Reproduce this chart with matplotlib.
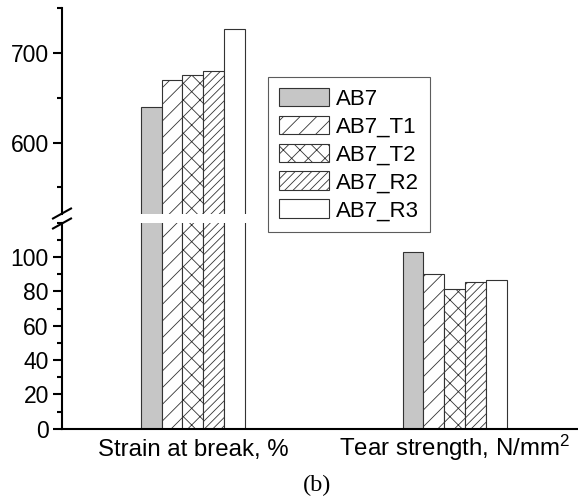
import matplotlib
matplotlib.use("Agg")
import matplotlib.pyplot as plt
import numpy as np
from matplotlib.lines import Line2D
from matplotlib.ticker import MultipleLocator

plt.rcParams['font.family'] = ['Liberation Sans', 'DejaVu Sans']
plt.rcParams['mathtext.fontset'] = 'custom'
plt.rcParams['mathtext.rm'] = 'Liberation Sans'
plt.rcParams['mathtext.it'] = 'Liberation Sans'
plt.rcParams['hatch.linewidth'] = 0.6

categories = ["Strain at break, %", "Tear strength, N/mm$^2$"]
series = ["AB7", "AB7_T1", "AB7_T2", "AB7_R2", "AB7_R3"]
strain_at_break = [640, 670, 675, 680, 727]
tear_strength = [103, 90, 81.5, 85.5, 86.5]
values = np.array([strain_at_break, tear_strength]).T  # rows: series

faces = ['#c6c6c6', 'white', 'white', 'white', 'white']
hatches = [None, '//', 'xx', '////', None]

W, H = 578, 497
fig = plt.figure(figsize=(W / 100, H / 100), dpi=100)

left = 62 / W
width = 1 - left
ax_lo = fig.add_axes([left, (H - 428.7) / H, width, 206 / H])
ax_hi = fig.add_axes([left, (H - 214.3) / H, width, 206 / H])

x = np.arange(1, len(categories) + 1)
bw = 0.08
offsets = (np.arange(len(series)) - (len(series) - 1) / 2) * bw

for ax in (ax_lo, ax_hi):
    for i, name in enumerate(series):
        ax.bar(x + offsets[i], values[i], width=bw, facecolor=faces[i],
               edgecolor='#333333', linewidth=0.8, hatch=hatches[i],
               label=name, zorder=2)
    ax.set_xlim(0.5, 2.47)
    for s in ('top', 'right'):
        ax.spines[s].set_visible(False)
    ax.spines['left'].set_linewidth(1.5)
    ax.spines['bottom'].set_linewidth(1.5)
    ax.tick_params(axis='y', which='major', direction='out', length=6.5,
                   width=1.5, labelsize=16.5, pad=3)
    ax.tick_params(axis='y', which='minor', direction='out', length=3.5,
                   width=1.5)
    ax.patch.set_visible(False)

ax_lo.set_ylim(0, 120)
ax_lo.yaxis.set_major_locator(MultipleLocator(20))
ax_lo.yaxis.set_minor_locator(MultipleLocator(10))
ax_lo.set_yticks([0, 20, 40, 60, 80, 100])
ax_lo.set_xticks(x)
ax_lo.set_xticklabels(categories, fontsize=17.3)
ax_lo.tick_params(axis='x', length=0, pad=19.5)
for lbl in ax_lo.get_xticklabels():
    lbl.set_verticalalignment('baseline')

ax_hi.set_ylim(520, 750)
ax_hi.set_yticks([600, 700])
ax_hi.set_yticks([550, 650, 750], minor=True)
ax_hi.spines['bottom'].set_visible(False)
ax_hi.set_xticks([])

# break marks across the left spine
for yp in (213.5, 223.5):
    fig.add_artist(Line2D([(53) / W, (71) / W],
                          [(H - (yp + 5)) / H, (H - (yp - 5)) / H],
                          color='black', linewidth=1.5))

handles, labels = ax_lo.get_legend_handles_labels()
leg = fig.legend(handles, labels, loc='upper left',
                 bbox_to_anchor=(268.3 / W, 1 - 76.7 / H),
                 bbox_transform=fig.transFigure, borderaxespad=0,
                 fontsize=16, frameon=True, fancybox=False, shadow=False,
                 handlelength=2.25, handleheight=0.9, handletextpad=0.3,
                 labelspacing=0.27, borderpad=0.5)
leg.get_frame().set_edgecolor('#333333')
leg.get_frame().set_linewidth(0.8)

fig.text(317 / W, 1 - 485 / H, "(b)", fontsize=17.5, ha='center', va='center',
         family=['Liberation Serif', 'DejaVu Serif'])

fig.savefig("out.png", dpi=100)
